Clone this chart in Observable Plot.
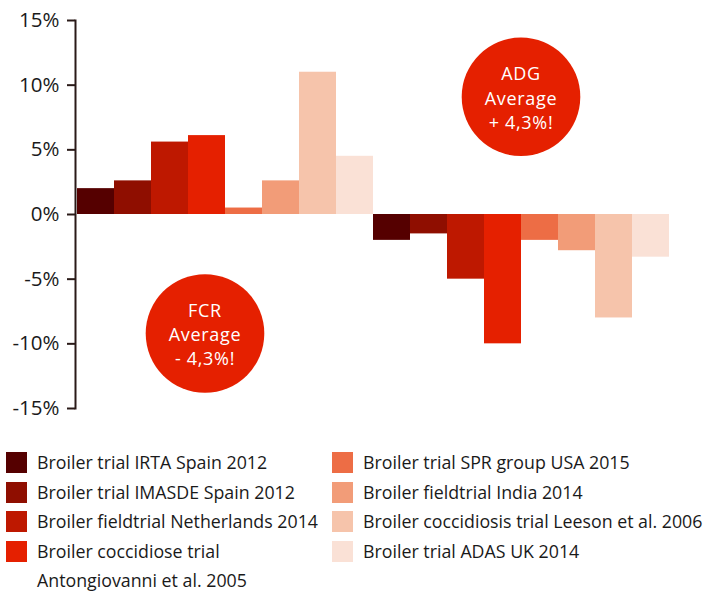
<!DOCTYPE html>
<html>
<head>
<meta charset="utf-8">
<script src="https://cdn.jsdelivr.net/npm/d3@7"></script>
<script src="https://cdn.jsdelivr.net/npm/@observablehq/plot@0.6"></script>
<style>
  html, body { margin: 0; padding: 0; background: #fff; }
  body { width: 703px; height: 593px; overflow: hidden; font-family: "Open Sans", sans-serif; color: #1a1a1a; }
  #legend { position: relative; display: flex; margin-top: 18px; }
  .col { display: flex; flex-direction: column; }
  .col1 { margin-left: 6px; width: 326px; }
  .item { display: flex; align-items: flex-start; font-size: 17.8px; line-height: 29.5px; white-space: pre-line; }
  .sw { width: 21px; height: 21px; flex: none; margin-top: 4px; margin-right: 10px; }
  .note text { letter-spacing: 0.7px; }
</style>
</head>
<body>
<div id="chart"></div>
<div id="legend"></div>
<script>
// ---- data ----
const groups = ["ADG", "FCR"];
const trials = [
  "Broiler trial IRTA Spain 2012",
  "Broiler trial IMASDE Spain 2012",
  "Broiler fieldtrial Netherlands 2014",
  "Broiler coccidiose trial\nAntongiovanni et al. 2005",
  "Broiler trial SPR group USA 2015",
  "Broiler fieldtrial India 2014",
  "Broiler coccidiosis trial Leeson et al. 2006",
  "Broiler trial ADAS UK 2014"
];
const colors = ["#550000", "#8f0e00", "#be1800", "#e52000", "#ed6d45", "#f29c78", "#f6c4ab", "#fae1d6"];
const adgValues = [2.0, 2.6, 5.6, 6.1, 0.5, 2.6, 11.0, 4.5];
const fcrValues = [-2.0, -1.5, -5.0, -10.0, -2.0, -2.8, -8.0, -3.3];
const yTicks = [-15, -10, -5, 0, 5, 10, 15];
const annotationLabels = ["ADG\nAverage\n+ 4,3%!", "FCR\nAverage\n- 4,3%!"];
const annotationGroup = ["FCR", "ADG"];
const annotationTrialIndex = [3, 3];
const annotationY = [9.1, -9.2];
const annotationDx = [18, -2];

// ---- build table ----
const rows = [];
groups.forEach((g, gi) => {
  const vals = gi === 0 ? adgValues : fcrValues;
  trials.forEach((t, i) => rows.push({group: g, trial: t, key: g + "|" + i, value: vals[i], color: colors[i]}));
});
const keys = rows.map(d => d.key);
const notes = annotationLabels.map((text, i) => ({
  text, key: annotationGroup[i] + "|" + annotationTrialIndex[i], y: annotationY[i], dx: annotationDx[i]
}));

const noteMarks = notes.flatMap(n => [
  Plot.dot([n], {x: "key", y: "y", r: 59.3, fill: "#e52000", dx: n.dx}),
  Plot.text([n], {x: "key", y: "y", text: "text", fill: "#fff", fontSize: 18, lineHeight: 1.34, dx: n.dx, className: "note"})
]);

const plot = Plot.plot({
  width: 703,
  height: 430,
  marginLeft: 75,
  marginRight: 33,
  marginTop: 20,
  marginBottom: 22,
  style: {fontFamily: "Open Sans, sans-serif", fontSize: "20px", color: "#1a1a1a", background: "#fff"},
  x: {domain: keys, padding: 0, axis: null},
  y: {domain: [-15, 15], ticks: yTicks, tickFormat: d => d + "%", tickSize: 8, tickPadding: 8, label: null},
  marks: [
    Plot.barY(rows, {x: "key", y: "value", fill: "color", inset: 0}),
    Plot.axisY({ticks: yTicks, tickFormat: d => d + "%", tickSize: 8, tickPadding: 8, label: null, stroke: "#2a1a18", strokeWidth: 2, fontSize: 20.5, fill: "#1a1a1a"}),
    Plot.frame({anchor: "left", stroke: "#2a1a18", strokeWidth: 2}),
    ...noteMarks
  ]
});
document.getElementById("chart").appendChild(plot);

// ---- legend ----
const legend = document.getElementById("legend");
[0, 1].forEach(c => {
  const col = document.createElement("div");
  col.className = "col col" + (c + 1);
  trials.slice(c * 4, c * 4 + 4).forEach((t, j) => {
    const it = document.createElement("div");
    it.className = "item";
    const sw = document.createElement("span");
    sw.className = "sw";
    sw.style.background = colors[c * 4 + j];
    const tx = document.createElement("span");
    tx.textContent = t;
    it.appendChild(sw); it.appendChild(tx);
    col.appendChild(it);
  });
  legend.appendChild(col);
});
</script>
</body>
</html>
